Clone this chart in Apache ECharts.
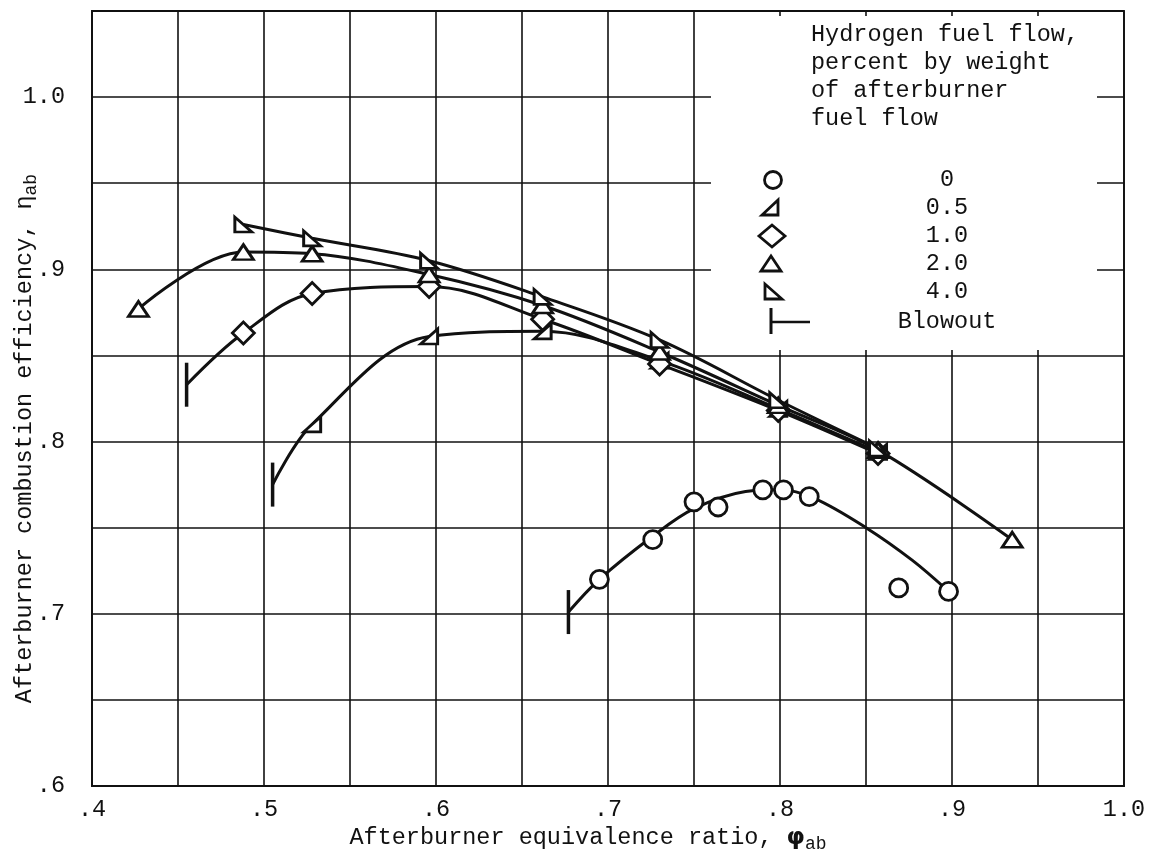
<!DOCTYPE html>
<html>
<head>
<meta charset="utf-8">
<script src="https://cdn.jsdelivr.net/npm/echarts@6/dist/echarts.min.js"></script>
<style>
  html, body { margin: 0; padding: 0; background: #fff; }
  #chart { width: 1158px; height: 856px; }
</style>
</head>
<body>
<div id="chart"></div>
<script>
// Afterburner combustion efficiency vs equivalence ratio, by hydrogen fuel fraction

// 0 percent hydrogen: test points and faired curve
const phi0 = [0.695, 0.726, 0.750, 0.764, 0.790, 0.802, 0.817, 0.869, 0.898];
const eta0 = [0.720, 0.743, 0.765, 0.762, 0.772, 0.772, 0.768, 0.715, 0.713];
const phi0Curve = [0.677, 0.695, 0.726, 0.750, 0.780, 0.800, 0.820, 0.850, 0.877, 0.898];
const eta0Curve = [0.701, 0.720, 0.745, 0.761, 0.771, 0.772, 0.767, 0.750, 0.731, 0.713];

// 0.5 percent hydrogen
const phi05 = [0.528, 0.596, 0.662, 0.730, 0.799, 0.857];
const eta05 = [0.810, 0.861, 0.864, 0.847, 0.819, 0.794];

// 1.0 percent hydrogen
const phi10 = [0.488, 0.528, 0.596, 0.662, 0.730, 0.799, 0.857];
const eta10 = [0.863, 0.886, 0.890, 0.871, 0.845, 0.818, 0.793];

// 2.0 percent hydrogen
const phi20 = [0.427, 0.488, 0.528, 0.596, 0.662, 0.730, 0.799, 0.857, 0.935];
const eta20 = [0.877, 0.910, 0.909, 0.897, 0.879, 0.852, 0.821, 0.795, 0.743];

// 4.0 percent hydrogen
const phi40 = [0.488, 0.528, 0.596, 0.662, 0.730, 0.799, 0.857];
const eta40 = [0.926, 0.918, 0.905, 0.884, 0.859, 0.824, 0.796];

// Blowout limits (0, 1.0 and 0.5 percent curves)
const phiBlow = [0.677, 0.455, 0.505];
const etaBlow = [0.701, 0.833, 0.775];

// Legend entries
const legendTitle = ['Hydrogen fuel flow,', 'percent by weight', 'of afterburner', 'fuel flow'];
const legendValues = ['0', '0.5', '1.0', '2.0', '4.0', 'Blowout'];

const FONT = 'Liberation Mono';
const FS = 23.5;
const INK = '#111';

const pairs = (xs, ys) => xs.map((x, i) => [x, ys[i]]);

// right-angle triangle marks
const SYM_HALF = 'path://M10,0 L10,10 L0,10 Z';
const SYM_FOUR = 'path://M0,0 L0,10 L10,10 Z';

const markStyle = { color: '#fff', borderColor: INK, borderWidth: 2.8, opacity: 1 };

function curve(data) {
  return {
    type: 'line', data: data, smooth: 0.35, showSymbol: false, symbol: 'none',
    lineStyle: { color: INK, width: 3 }, silent: true, z: 3
  };
}
function marks(data, symbol, size) {
  return {
    type: 'scatter', data: data, symbol: symbol, symbolSize: size,
    itemStyle: markStyle, silent: true, z: 5
  };
}

const tickLabel = v => {
  const h = Math.round(v * 100);
  if (h % 10 !== 0) return '';
  if (h === 100) return '1.0';
  return '.' + (h / 10);
};

const chart = echarts.init(document.getElementById('chart'), null, { renderer: 'canvas' });

// legend block drawn in the upper right corner
const legendGraphics = [];
legendGraphics.push({
  type: 'rect', z: 1, silent: true,
  shape: { x: 711, y: 16, width: 386, height: 334 },
  style: { fill: '#fff' }
});
legendTitle.forEach((t, i) => {
  legendGraphics.push({
    type: 'text', z: 10, left: 811, top: 23 + i * 28,
    style: { text: t, font: FS + 'px ' + FONT, fill: INK }
  });
});
const rowY = [180, 208, 236, 264, 292, 322];
const legStroke = { fill: '#fff', stroke: INK, lineWidth: 2.8 };
legendGraphics.push({ type: 'circle', z: 10, shape: { cx: 773, cy: rowY[0], r: 8.5 }, style: legStroke });
legendGraphics.push({ type: 'polygon', z: 10, shape: { points: [[778, rowY[1] - 8], [778, rowY[1] + 7], [762, rowY[1] + 7]] }, style: legStroke });
legendGraphics.push({ type: 'polygon', z: 10, shape: { points: [[772, rowY[2] - 11], [785, rowY[2]], [772, rowY[2] + 11], [759, rowY[2]]] }, style: legStroke });
legendGraphics.push({ type: 'polygon', z: 10, shape: { points: [[771, rowY[3] - 8], [781, rowY[3] + 7], [761, rowY[3] + 7]] }, style: legStroke });
legendGraphics.push({ type: 'polygon', z: 10, shape: { points: [[765, rowY[4] - 8], [765, rowY[4] + 7], [782, rowY[4] + 7]] }, style: legStroke });
legendGraphics.push({ type: 'line', z: 10, shape: { x1: 771, y1: rowY[5] - 14, x2: 771, y2: rowY[5] + 12 }, style: { stroke: INK, lineWidth: 3 } });
legendGraphics.push({ type: 'line', z: 10, shape: { x1: 771, y1: rowY[5], x2: 810, y2: rowY[5] }, style: { stroke: INK, lineWidth: 2.6 } });
legendValues.forEach((t, i) => {
  legendGraphics.push({
    type: 'text', z: 10, x: 947, y: rowY[i],
    style: { text: t, font: FS + 'px ' + FONT, fill: INK, textAlign: 'center', textVerticalAlign: 'middle' }
  });
});

const nameRich = (greekFont, greekWeight) => ({
  a: { fontFamily: FONT, fontSize: FS, color: INK, lineHeight: 30 },
  g: { fontFamily: greekFont, fontSize: FS, fontWeight: greekWeight, color: INK, lineHeight: 30 },
  s: { fontFamily: FONT, fontSize: 18, color: INK, verticalAlign: 'bottom', lineHeight: 30 }
});

const option = {
  backgroundColor: '#fff',
  animation: false,
  textStyle: { fontFamily: FONT },
  grid: {
    left: 92, right: 34, top: 11, bottom: 70,
    containLabel: false, outerBoundsMode: 'none',
    show: true, borderColor: INK, borderWidth: 1.8, backgroundColor: 'transparent'
  },
  xAxis: {
    type: 'value', min: 0.4, max: 1.0, interval: 0.05,
    axisLine: { show: true, lineStyle: { color: INK, width: 1.8 } },
    axisTick: { show: false },
    splitLine: { show: true, lineStyle: { color: INK, width: 1.6 } },
    axisLabel: { formatter: tickLabel, color: INK, fontFamily: FONT, fontSize: FS, margin: 12 },
    name: '{a|Afterburner equivalence ratio, }{g|φ}{s|ab}',
    nameLocation: 'middle', nameGap: 37, nameMoveOverlap: false,
    nameTextStyle: {
      color: INK, fontFamily: FONT, fontSize: FS, padding: [0, 40, 0, 0],
      rich: nameRich('DejaVu Sans', 'bold')
    }
  },
  yAxis: {
    type: 'value', min: 0.6, max: 1.05, interval: 0.05,
    axisLine: { show: true, lineStyle: { color: INK, width: 1.8 } },
    axisTick: { show: false },
    splitLine: { show: true, lineStyle: { color: INK, width: 1.6 } },
    axisLabel: { formatter: tickLabel, color: INK, fontFamily: FONT, fontSize: FS, margin: 27 },
    name: '{a|Afterburner combustion efficiency, }{g|η}{s|ab}',
    nameLocation: 'middle', nameGap: 52, nameRotate: 90, nameMoveOverlap: false,
    nameTextStyle: {
      color: INK, fontFamily: FONT, fontSize: FS, padding: [0, 80, 0, 0],
      rich: nameRich(FONT, 'normal')
    }
  },
  graphic: legendGraphics,
  series: [
    curve(pairs(phi0Curve, eta0Curve)),
    curve([[phiBlow[2], etaBlow[2]]].concat(pairs(phi05, eta05))),
    curve([[phiBlow[1], etaBlow[1]]].concat(pairs(phi10, eta10))),
    curve(pairs(phi20, eta20)),
    curve(pairs(phi40, eta40)),
    marks(pairs(phi0, eta0), 'circle', 18),
    marks(pairs(phi05, eta05), SYM_HALF, [17, 15]),
    marks(pairs(phi10, eta10), 'diamond', [22, 22]),
    marks(pairs(phi20, eta20), 'triangle', [20, 15]),
    marks(pairs(phi40, eta40), SYM_FOUR, [17, 15]),
    {
      type: 'scatter', data: pairs(phiBlow, etaBlow), symbol: 'rect', symbolSize: [3.5, 44],
      itemStyle: { color: INK, opacity: 1 }, silent: true, z: 6
    }
  ]
};

chart.setOption(option);
</script>
</body>
</html>
